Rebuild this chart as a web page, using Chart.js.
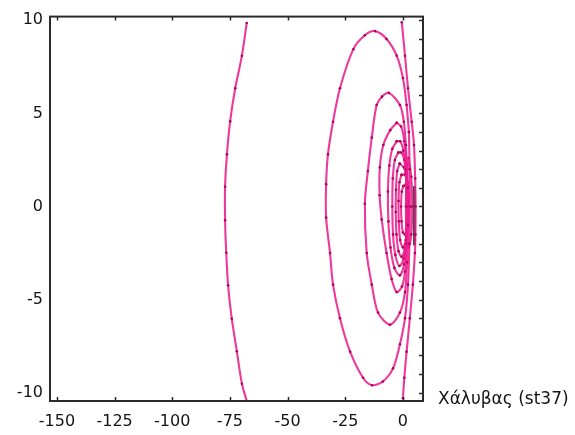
<!DOCTYPE html>
<html>
<head>
<meta charset="utf-8">
<title>Χάλυβας (st37)</title>
<script src="https://cdn.jsdelivr.net/npm/chart.js@4.4.1/dist/chart.umd.min.js"></script>
<style>
  html, body { margin: 0; padding: 0; background: #fff; }
  canvas { display: block; }
</style>
</head>
<body>
<canvas id="chart" width="575" height="435"></canvas>
<script>
(function(Chart) {
  'use strict';

  // tick values
  var xTickValues = [-150, -125, -100, -75, -50, -25, 0];
  var yTickValues = [-10, -5, 0, 5, 10];
  var yMinorTicks = [-10, -9, -8, -7, -6, -5, -4, -3, -2, -1, 0, 1, 2, 3, 4, 5, 6, 7, 8, 9, 10];
  var materialLabel = 'Χάλυβας (st37)';

  // contour curves, [x, y]
  var arcFar = [
    [-67.7, 9.86], [-69.8, 8.1], [-72.7, 6.35], [-74.9, 4.58], [-76.3, 2.8], [-77.1, 1.06],
    [-77.1, -0.74], [-76.6, -2.49], [-75.8, -4.23], [-74.2, -6.03], [-72.0, -7.78],
    [-69.8, -9.52], [-67.7, -10.45]
  ];
  var loopOne = [
    [2.6, 4.0], [1.6, 5.45], [0, 6.9], [-2.7, 8.1], [-7.1, 9.0], [-12.1, 9.42], [-16.5, 9.2],
    [-21.5, 8.45], [-27.3, 6.35], [-30.3, 4.55], [-32.5, 2.8], [-33.3, 1.2], [-33.3, -0.6],
    [-31.6, -2.5], [-30.3, -4.2], [-27.3, -6.0], [-22.9, -7.8], [-17.3, -9.2], [-13.4, -9.6],
    [-8.7, -9.4], [-4.3, -8.7], [-1.3, -7.4], [0.9, -6.0], [2.2, -4.2], [2.8, -2.0],
    [3.0, 0], [2.9, 2.0], [2.6, 4.0]
  ];
  var loopTwo = [
    [1.3, 3.3], [0.4, 4.55], [-1.3, 5.45], [-6.1, 6.1], [-9.1, 5.9], [-11.4, 5.45],
    [-13.5, 3.7], [-15.2, 1.9], [-16.5, 0.15], [-15.7, -2.5], [-13.5, -4.2], [-10.8, -5.7],
    [-5.6, -6.35], [-1.3, -5.7], [0.9, -4.6], [1.8, -3.0], [2.3, -1.0], [2.2, 1.0], [1.3, 3.3]
  ];
  var loopThree = [
    [-2.7, 4.5], [-5.5, 4.1], [-8.5, 3.3], [-10.0, 2.1], [-10.1, 0.6], [-9.2, -0.7],
    [-7.1, -2.5], [-4.9, -3.9], [-2.7, -4.6], [-0.4, -4.3], [0.9, -3.5], [1.6, -2.0],
    [1.8, 0], [1.5, 2.0], [0.6, 3.5], [-0.8, 4.3], [-2.7, 4.5]
  ];
  var loopFour = [
    [-2.7, 3.5], [-4.6, 3.1], [-5.9, 2.2], [-6.5, 0.8], [-6.3, -0.8], [-5.4, -2.2],
    [-3.7, -3.3], [-1.3, -3.7], [0.5, -3.1], [1.3, -1.8], [1.6, 0], [1.3, 1.8],
    [0.2, 3.0], [-1.2, 3.5], [-2.7, 3.5]
  ];
  var loopFive = [
    [-2.0, 2.9], [-3.5, 2.5], [-4.4, 1.5], [-4.6, 0], [-4.3, -1.5], [-3.3, -2.6],
    [-1.5, -3.2], [0.3, -2.8], [1.4, -1.6], [1.8, 0], [1.6, 1.5], [0.6, 2.5], [-0.7, 2.9],
    [-2.0, 2.9]
  ];
  var loopSix = [
    [-1.4, 2.3], [-2.5, 1.9], [-3.0, 0.9], [-3.1, -0.3], [-2.8, -1.5], [-1.9, -2.4],
    [-0.6, -2.7], [0.8, -2.3], [1.8, -1.2], [2.1, 0.2], [1.6, 1.4], [0.4, 2.1], [-1.4, 2.3]
  ];
  var loopSeven = [
    [-0.6, 1.7], [-1.5, 1.3], [-1.9, 0.3], [-1.8, -0.8], [-1.2, -1.8], [0, -2.2],
    [1.3, -1.8], [2.2, -0.8], [2.5, 0.4], [2.0, 1.3], [0.8, 1.7], [-0.6, 1.7]
  ];
  var loopEight = [
    [0.2, 1.1], [-0.5, 0.8], [-0.8, 0], [-0.6, -0.8], [0, -1.4], [1.0, -1.5],
    [2.0, -1.0], [2.5, 0], [2.3, 0.8], [1.4, 1.2], [0.2, 1.1]
  ];
  var loopNine = [
    [2.5, 2.6], [1.5, 1.5], [1.3, 0], [1.5, -1.5], [2.5, -2.2], [3.6, -1.5],
    [4.0, 0], [3.6, 1.6], [2.5, 2.6]
  ];
  var arcNear = [
    [-0.5, 9.9], [0.9, 8.1], [2.2, 6.35], [3.8, 4.55], [4.8, 3.3], [5.3, 1.5], [5.5, 0],
    [5.4, -1.5], [5.2, -2.5], [4.3, -4.2], [3.0, -6.0], [1.6, -7.8], [0.6, -9.2], [0, -10.3]
  ];
  var darkSegment = [[5.0, 1.1], [5.0, -2.1]];

  var curves = [arcFar, loopOne, loopTwo, loopThree, loopFour, loopFive,
    loopSix, loopSeven, loopEight, loopNine, arcNear];

  var textColor = '#141414';
  var tickFont = { family: 'DejaVu Sans', size: 16 };

  function toPoints(list) {
    return list.map(function(p) { return { x: p[0], y: p[1] }; });
  }

  var datasets = curves.map(function(curve) {
    return {
      data: toPoints(curve),
      showLine: true,
      borderColor: 'rgba(236, 30, 142, 0.88)',
      borderWidth: 2.1,
      tension: 0.3,
      pointRadius: 1.3,
      pointBackgroundColor: '#b0005a',
      pointBorderWidth: 0
    };
  });

  datasets.push({
    data: toPoints(darkSegment),
    showLine: true,
    borderColor: '#4a4a4a',
    borderWidth: 3,
    pointRadius: 0
  });

  // box frame, inward ticks and the material label
  var framePlugin = {
    id: 'frame',
    afterDraw: function(chart) {
      var ctx = chart.ctx;
      var area = chart.chartArea;
      var xs = chart.scales.x;
      var ys = chart.scales.y;

      ctx.save();
      ctx.strokeStyle = '#2b2b2b';
      ctx.lineWidth = 2;
      ctx.strokeRect(area.left, area.top, area.right - area.left, area.bottom - area.top);

      ctx.lineWidth = 1.5;
      ctx.beginPath();
      xTickValues.forEach(function(v) {
        var px = Math.round(xs.getPixelForValue(v)) + 0.5;
        ctx.moveTo(px, area.top);
        ctx.lineTo(px, area.top + 4);
        ctx.moveTo(px, area.bottom);
        ctx.lineTo(px, area.bottom - 4);
      });
      yMinorTicks.forEach(function(v) {
        var py = Math.round(ys.getPixelForValue(v)) + 0.5;
        ctx.moveTo(area.right, py);
        ctx.lineTo(area.right - 4, py);
      });
      ctx.stroke();

      ctx.fillStyle = textColor;
      ctx.font = '17px "DejaVu Sans"';
      ctx.textAlign = 'left';
      ctx.textBaseline = 'middle';
      ctx.fillText(materialLabel, area.right + 15, area.bottom - 1);
      ctx.restore();
    }
  };

  new Chart(document.getElementById('chart'), {
    type: 'scatter',
    data: { datasets: datasets },
    options: {
      responsive: false,
      animation: false,
      layout: { padding: { top: 11, right: 152, bottom: 0, left: 0 } },
      plugins: {
        legend: { display: false },
        tooltip: { enabled: false }
      },
      scales: {
        x: {
          type: 'linear',
          min: -153,
          max: 8.7,
          grid: { display: false, drawTicks: false },
          border: { display: false },
          afterBuildTicks: function(scale) {
            scale.ticks = xTickValues.map(function(v) { return { value: v }; });
          },
          afterFit: function(scale) { scale.height = 34; },
          ticks: { font: tickFont, color: textColor, padding: 11, maxRotation: 0, autoSkip: false }
        },
        y: {
          type: 'linear',
          min: -10.45,
          max: 10.2,
          grid: { display: false, drawTicks: false },
          border: { display: false },
          afterBuildTicks: function(scale) {
            scale.ticks = yTickValues.map(function(v) { return { value: v }; });
          },
          afterFit: function(scale) { scale.width = 50; },
          ticks: { font: tickFont, color: textColor, padding: 7, autoSkip: false }
        }
      }
    },
    plugins: [framePlugin]
  });

}(Chart));
</script>
</body>
</html>
